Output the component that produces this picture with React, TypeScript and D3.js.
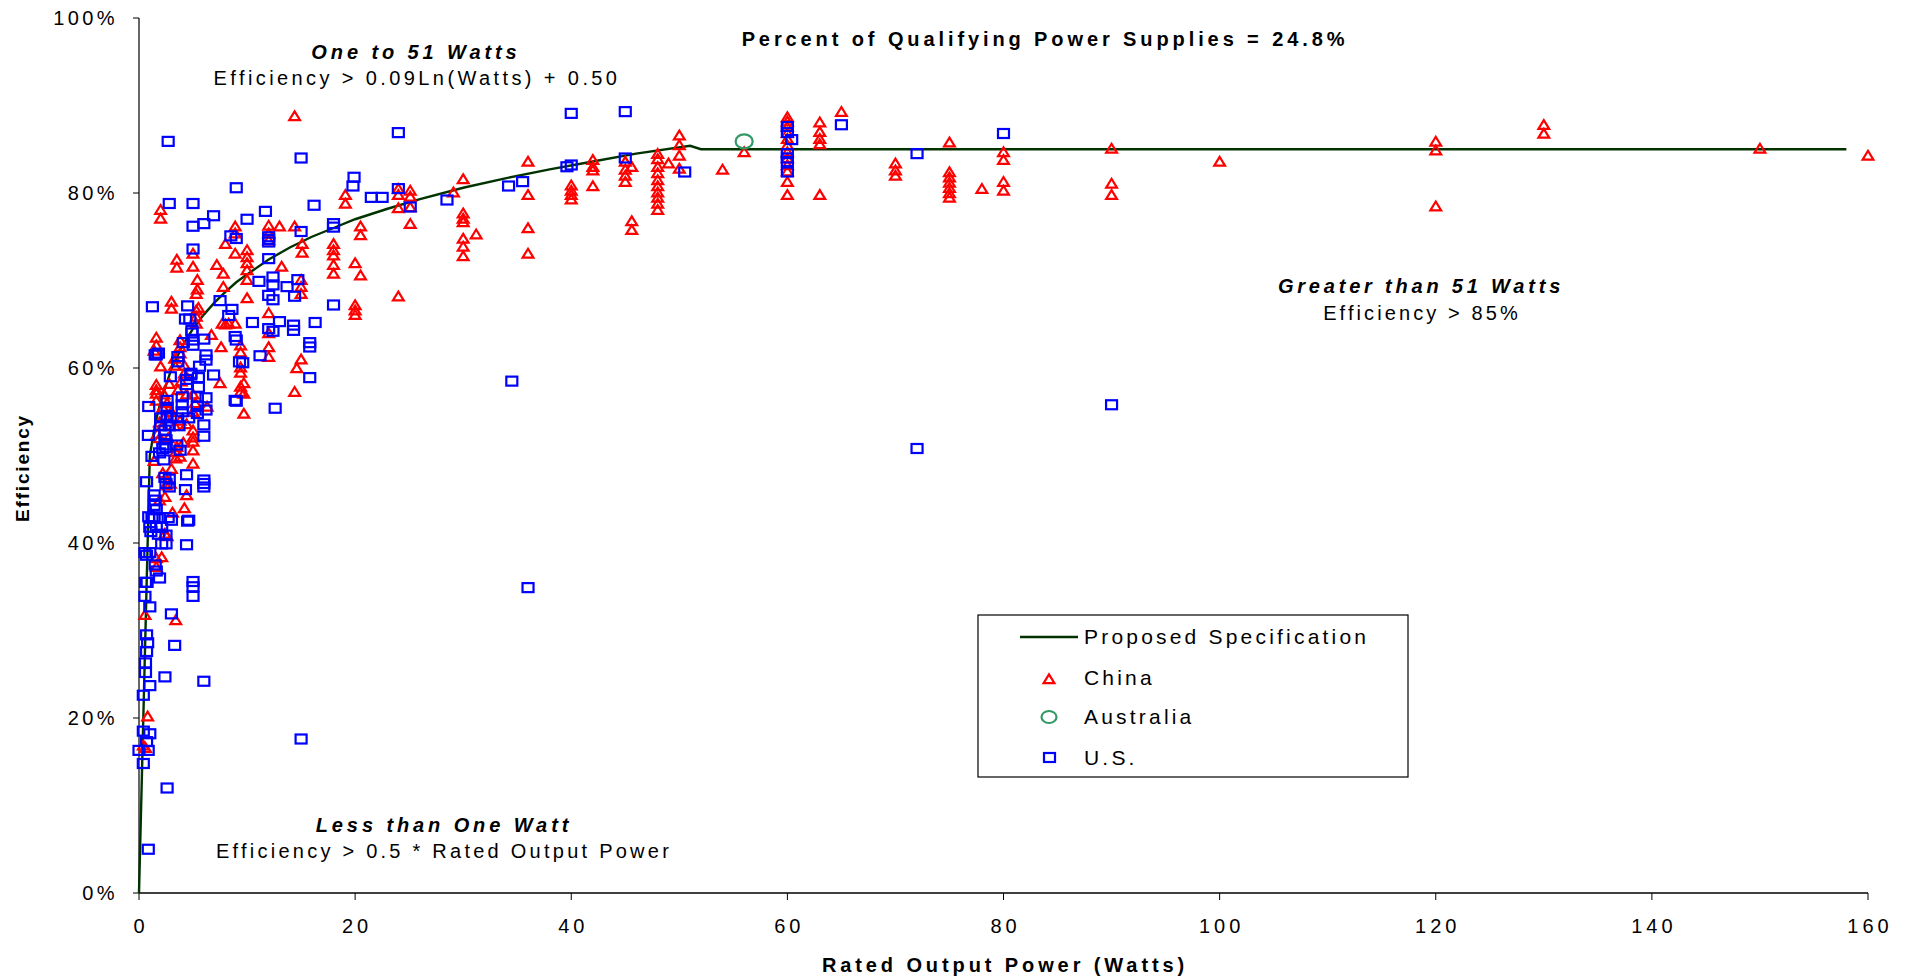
import React from 'react';
import * as d3 from 'd3';

// axis ticks
const xTicks = [0, 20, 40, 60, 80, 100, 120, 140, 160];
const yTicks = [0, 20, 40, 60, 80, 100];

// proposed specification curve (watts, efficiency %)
const specWatts = [0, 1, 1.5, 2, 3, 4, 5, 6, 7, 8, 9, 10, 12, 14, 16, 18, 20, 23, 26, 30, 34, 38, 42, 46, 51, 52, 158];
const specEff = [0, 50, 53.6, 56.2, 59.9, 62.5, 64.5, 66.1, 67.5, 68.7, 69.8, 70.7, 72.4, 73.8, 75.0, 76.0, 77.0, 78.2, 79.3, 80.6, 81.7, 82.7, 83.6, 84.5, 85.4, 85.0, 85.0];

// [rated output watts, efficiency %]
const australia: [number, number][] = [[56, 85.9]];

const china: [number, number][] = [
  [160, 84.3], [150, 85.1], [130, 87.8], [130, 86.8], [120, 85.9], [120, 84.9], [120, 78.5], [100, 83.6],
  [90, 85.1], [90, 81.1], [90, 79.8],
  [80, 84.7], [80, 83.8], [80, 81.3], [80, 80.3], [78, 80.5],
  [75, 85.8], [75, 82.4], [75, 81.8], [75, 81.2], [75, 80.6], [75, 80.0], [75, 79.5],
  [70, 83.4], [70, 82.6], [70, 82.0],
  [65, 89.3],
  [63, 88.1], [63, 87.0], [63, 86.2], [63, 85.6], [63, 79.8],
  [60, 88.7], [60, 88.2], [60, 87.6], [60, 86.9], [60, 86.2], [60, 85.5], [60, 84.7], [60, 84.0], [60, 83.2], [60, 82.5], [60, 81.3], [60, 79.8],
  [56, 84.7], [54, 82.7],
  [50, 86.6], [50, 85.5], [50, 84.3], [50, 82.8], [49, 83.4],
  [48, 84.5], [48, 83.9], [48, 83.0], [48, 82.3], [48, 81.5], [48, 80.8], [48, 80.1], [48, 79.5], [48, 78.8], [48, 78.1],
  [45.6, 83.0], [45.6, 76.8], [45.6, 75.8],
  [45, 83.6], [45, 82.7], [45, 82.0], [45, 81.3],
  [42, 83.8], [42, 83.0], [42, 82.6], [42, 80.8],
  [40, 80.9], [40, 80.3], [40, 79.8], [40, 79.3],
  [36, 83.6], [36, 79.8], [36, 76.0], [36, 73.1],
  [31.2, 75.3],
  [30, 81.6], [30, 77.7], [30, 77.1], [30, 76.7], [30, 74.8], [30, 73.9], [30, 72.8], [29.1, 80.1],
  [25.1, 80.3], [25.1, 79.6], [25.1, 78.4], [25.1, 76.5],
  [24, 80.5], [24, 79.8], [24, 78.3], [24, 68.2],
  [20.5, 76.2], [20.5, 75.2], [20.5, 70.6], [20, 72.0], [20, 67.2], [20, 66.6], [20, 66.1],
  [19.1, 79.8], [19.1, 78.8],
  [18, 74.2], [18, 73.5], [18, 72.9], [18, 71.8], [18, 70.8],
  [15.1, 74.2], [15.1, 73.2], [15, 70.1], [15, 69.3], [15, 68.5], [15, 61.0], [14.6, 60.0], [14.4, 57.3],
  [14.4, 88.8], [14.4, 76.2], [13, 76.2], [13.2, 71.6],
  [12, 76.3], [12, 75.4], [12, 74.6], [12, 66.3], [12, 64.0], [12, 62.4], [12, 61.3],
  [10, 73.5], [10, 72.7], [10, 72.0], [10, 71.2], [10, 70.1], [10, 68.0],
  [9.7, 58.3], [9.7, 57.1], [9.7, 54.8],
  [9.4, 62.6], [9.4, 61.8], [9.4, 60.1], [9.4, 59.5], [9.4, 57.9], [9.4, 57.3],
  [8.9, 76.2], [8.9, 75.4], [8.9, 73.1], [8.0, 74.2], [8.0, 65.0], [8.3, 65.1], [8.9, 65.1], [7.7, 65.1],
  [7.8, 70.8], [7.8, 69.3], [7.2, 71.8], [7.6, 62.4], [7.5, 58.3], [6.7, 63.8],
  [5.4, 70.1], [5.4, 69.0], [5.0, 73.1], [5.0, 71.6], [5.3, 68.5], [5.5, 66.9], [5.3, 66.6], [5.3, 65.9], [5.3, 65.1],
  [3.5, 72.4], [3.5, 71.5], [3.0, 67.6], [3.0, 66.8], [3.8, 63.2], [3.8, 62.4], [3.8, 61.7], [3.3, 61.1], [3.3, 60.3], [4.2, 60.3], [4.2, 59.4],
  [2.0, 78.1], [2.0, 77.1], [1.6, 63.5], [1.6, 62.6], [1.4, 62.0], [2.0, 60.2], [1.6, 58.1], [1.6, 57.5], [1.6, 57.1], [1.6, 56.3], [1.7, 52.5],
  [6.3, 55.6], [5.0, 57.0], [5.2, 56.0], [5.0, 55.0],
  [5.0, 52.9], [5.0, 52.1], [5.0, 51.6], [5.0, 50.6], [5.0, 49.1],
  [3.5, 51.0], [3.8, 49.9], [3.4, 50.4], [3.4, 49.7], [2.9, 46.8], [2.5, 46.6], [2.4, 45.3],
  [1.9, 53.8], [2.2, 53.4], [2.4, 54.5], [3.3, 53.4], [3.8, 54.0], [4.4, 53.6],
  [2.3, 57.0], [2.6, 56.0], [3.0, 55.0], [2.2, 55.5], [3.6, 57.5], [3.9, 58.5], [4.4, 57.0], [2.8, 58.2],
  [1.9, 52.0], [2.7, 52.0], [4.1, 51.5], [3.0, 48.5], [2.2, 48.0], [1.4, 49.4], [1.9, 44.9], [2.6, 40.8],
  [4.4, 45.5], [4.2, 44.0], [3.1, 43.5],
  [2.4, 41.1], [2.1, 38.4], [1.6, 38.3], [1.6, 37.3], [0.55, 31.8], [3.4, 31.2], [0.8, 20.2], [0.4, 16.9], [0.6, 16.6],
];

const us: [number, number][] = [
  [90, 55.8], [80, 86.8], [72, 84.5], [72, 50.8], [65, 87.8],
  [60, 87.6], [60, 86.9], [60.4, 86.1], [60, 84.5], [60, 84.0], [60, 83.6], [60, 82.4],
  [50.5, 82.4], [45, 89.3], [45, 84.0], [40, 89.1], [40, 83.2], [39.6, 83.0], [36, 34.9], [35.5, 81.3], [34.2, 80.8], [34.5, 58.5],
  [28.5, 79.2], [25.1, 78.4], [24, 86.9], [24, 80.5], [22.5, 79.5], [21.5, 79.5], [19.9, 81.8], [19.8, 80.8],
  [18, 76.5], [18, 76.1], [18, 67.2], [16.2, 78.6], [16.3, 65.2], [15.8, 62.9], [15.8, 62.4], [15.8, 58.9], [15, 84.0], [15, 75.6], [15, 17.6],
  [12, 75.0], [12, 74.7], [12, 74.4], [12, 72.5], [12, 68.3], [12.4, 67.8], [12, 64.5], [12.4, 64.2], [12.6, 55.4], [11.7, 77.9], [11.1, 69.9], [12.4, 70.4], [12.4, 69.5],
  [13, 65.3], [13.7, 69.3], [14.4, 68.2], [14.7, 70.1], [14.3, 64.9], [14.3, 64.3],
  [10, 77.0], [10.5, 65.2], [11.2, 61.4], [9.6, 60.6], [9.0, 56.2], [9.0, 80.6], [8.5, 75.1], [9.0, 74.8], [8.9, 63.6], [9.0, 63.2], [7.5, 67.7], [8.6, 66.7], [8.3, 66.0],
  [6.0, 76.5], [6.9, 77.4], [5.0, 78.8], [5.0, 76.2], [5.0, 73.6], [2.8, 78.8], [2.7, 85.9],
  [6.0, 63.3], [4.5, 67.1], [4.3, 65.6], [4.7, 65.6], [4.9, 64.3], [4.9, 64.0], [5.0, 63.2], [5.0, 62.6], [4.1, 62.9], [3.6, 61.3], [3.6, 60.7],
  [6.2, 61.5], [6.2, 60.9], [5.6, 60.2], [9.3, 60.7], [2.9, 59.0], [4.8, 59.4], [4.8, 59.2], [6.9, 59.2], [4.4, 58.7], [4.4, 58.1], [5.5, 58.9], [5.5, 57.8],
  [1.24, 67.0], [1.6, 61.5], [1.5, 61.5], [1.8, 61.7],
  [0.9, 55.6], [2.6, 56.3], [2.6, 55.5], [2.6, 54.6], [4.0, 56.7], [4.0, 55.8], [4.0, 55.0], [5.4, 56.7], [5.4, 55.6], [5.4, 54.8], [6.2, 56.6], [6.2, 55.2], [8.9, 56.3],
  [2.0, 54.3], [2.9, 54.3], [3.5, 54.3], [4.6, 54.3], [2.0, 53.4], [2.8, 53.4], [3.7, 53.4],
  [6.0, 53.5], [6.0, 52.2], [0.87, 52.3], [2.4, 52.9], [2.4, 52.4], [2.5, 51.8], [2.4, 51.2], [2.5, 50.9], [3.5, 51.2], [3.8, 50.6], [1.2, 49.9], [1.9, 50.3], [2.3, 49.5], [2.2, 50.8],
  [4.4, 47.8], [6.0, 47.2], [6.0, 46.8], [6.0, 46.4], [4.3, 46.1], [2.4, 47.5], [2.8, 47.3], [2.5, 46.8], [2.8, 46.4], [0.7, 47.0],
  [1.4, 45.5], [1.5, 44.9], [1.4, 44.3], [1.6, 43.8],
  [0.9, 43.0], [1.2, 42.9], [1.4, 43.0], [1.9, 42.9], [2.7, 42.9], [3.0, 42.6], [1.0, 41.8], [1.6, 41.8], [2.1, 41.8], [1.1, 41.3], [1.8, 41.0], [2.5, 40.9],
  [4.6, 42.6], [2.1, 39.9], [2.5, 39.9], [4.4, 39.8], [4.5, 42.5],
  [0.55, 38.9], [1.0, 38.9], [0.7, 38.6], [1.5, 37.5], [1.6, 36.8], [1.9, 36.0], [0.6, 35.5], [0.75, 35.5], [0.55, 33.9], [1.0, 32.7],
  [5.0, 35.6], [5.0, 35.0], [5.0, 33.9], [3.0, 31.9], [3.3, 28.3],
  [0.7, 29.5], [0.8, 28.6], [0.7, 27.6], [0.6, 26.3], [0.6, 25.2], [2.4, 24.7], [6.0, 24.2], [1.0, 23.7], [0.4, 22.6],
  [0.4, 18.5], [1.0, 18.2], [0.7, 17.3], [0.0, 16.3], [0.85, 16.3], [0.4, 14.8], [2.6, 12.0], [0.86, 5.0],
];

const W = 1908;
const H = 978;
const FONT = '"Liberation Sans", Arial, sans-serif';

const triangleType = {
  draw(ctx: any) {
    ctx.moveTo(0, -4.6);
    ctx.lineTo(5.4, 4.2);
    ctx.lineTo(-5.4, 4.2);
    ctx.closePath();
  },
};

export default function App() {
  const x = d3.scaleLinear().domain([0, 160]).range([139, 1868]);
  const y = d3.scaleLinear().domain([0, 100]).range([893, 18]);

  const specLine = d3
    .line<number>()
    .x((d, i) => x(specWatts[i]))
    .y(d => y(d));

  const tri = d3.symbol().type(triangleType as any)() as string;

  return (
    <svg
      width={W}
      height={H}
      style={{ position: 'fixed', left: 0, top: 0, background: '#fff' }}
      fontFamily={FONT}
    >
      <rect width={W} height={H} fill="#fff" />

      {/* axes */}
      <line x1={139} x2={139} y1={y(100)} y2={y(0)} stroke="#000" strokeWidth={1.2} />
      <line x1={139} x2={1868} y1={y(0)} y2={y(0)} stroke="#000" strokeWidth={1.6} />
      {yTicks.map(t => (
        <g key={'y' + t}>
          <line x1={133} x2={139} y1={y(t)} y2={y(t)} stroke="#000" />
          <text x={118} y={y(t) + 7} textAnchor="end" fontSize={20} letterSpacing={3.4}>
            {t + '%'}
          </text>
        </g>
      ))}
      {xTicks.map(t => (
        <g key={'x' + t}>
          <line x1={x(t)} x2={x(t)} y1={893} y2={900} stroke="#000" />
          <text x={x(t) + 2} y={933} textAnchor="middle" fontSize={20} letterSpacing={4}>
            {t}
          </text>
        </g>
      ))}
      <text x={1005} y={972} textAnchor="middle" fontSize={20} fontWeight="bold" letterSpacing={3.9}>
        Rated Output Power (Watts)
      </text>
      <text
        transform="translate(29,468) rotate(-90)"
        textAnchor="middle"
        fontSize={19}
        fontWeight="bold"
        letterSpacing={1.8}
      >
        Efficiency
      </text>

      {/* series */}
      <path d={specLine(specEff) || ''} fill="none" stroke="#003300" strokeWidth={2.4} />
      {china.map((d, i) => (
        <path key={'c' + i} d={tri} transform={`translate(${x(d[0])},${y(d[1])})`} fill="none" stroke="#ff0000" strokeWidth={2.2} />
      ))}
      {australia.map((d, i) => (
        <ellipse key={'a' + i} cx={x(d[0])} cy={y(d[1])} rx={8.5} ry={7} fill="none" stroke="#339966" strokeWidth={2.2} />
      ))}
      {us.map((d, i) => (
        <rect key={'u' + i} x={x(d[0]) - 5.5} y={y(d[1]) - 4.5} width={11} height={9} fill="none" stroke="#0000ff" strokeWidth={2.2} />
      ))}

      {/* annotations */}
      <text x={416} y={59} textAnchor="middle" fontSize={20} fontWeight="bold" fontStyle="italic" letterSpacing={3.9}>
        One to 51 Watts
      </text>
      <text x={417} y={85} textAnchor="middle" fontSize={20} letterSpacing={3.4}>
        Efficiency &gt; 0.09Ln(Watts) + 0.50
      </text>
      <text x={1045} y={46} textAnchor="middle" fontSize={20} fontWeight="bold" letterSpacing={3.9}>
        Percent of Qualifying Power Supplies = 24.8%
      </text>
      <text x={1421} y={293} textAnchor="middle" fontSize={20} fontWeight="bold" fontStyle="italic" letterSpacing={3.8}>
        Greater than 51 Watts
      </text>
      <text x={1422} y={320} textAnchor="middle" fontSize={20} letterSpacing={3.1}>
        Efficiency &gt; 85%
      </text>
      <text x={444} y={832} textAnchor="middle" fontSize={20} fontWeight="bold" fontStyle="italic" letterSpacing={3.9}>
        Less than One Watt
      </text>
      <text x={444} y={858} textAnchor="middle" fontSize={20} letterSpacing={3.25}>
        Efficiency &gt; 0.5 * Rated Output Power
      </text>

      {/* legend */}
      <g>
        <rect x={978} y={615} width={430} height={162} fill="#fff" stroke="#000" strokeWidth={1.2} />
        <line x1={1020} x2={1078} y1={637} y2={637} stroke="#003300" strokeWidth={2.4} />
        <text x={1084} y={644} fontSize={21} letterSpacing={3.2}>Proposed Specification</text>
        <path d={tri} transform="translate(1049,679)" fill="none" stroke="#ff0000" strokeWidth={2.2} />
        <text x={1084} y={685} fontSize={21} letterSpacing={3.2}>China</text>
        <ellipse cx={1049} cy={717} rx={7.5} ry={6} fill="none" stroke="#339966" strokeWidth={2.2} />
        <text x={1084} y={724} fontSize={21} letterSpacing={3.2}>Australia</text>
        <rect x={1044} y={753} width={11} height={9} fill="none" stroke="#0000ff" strokeWidth={2.2} />
        <text x={1084} y={765} fontSize={21} letterSpacing={3.2}>U.S.</text>
      </g>
    </svg>
  );
}
